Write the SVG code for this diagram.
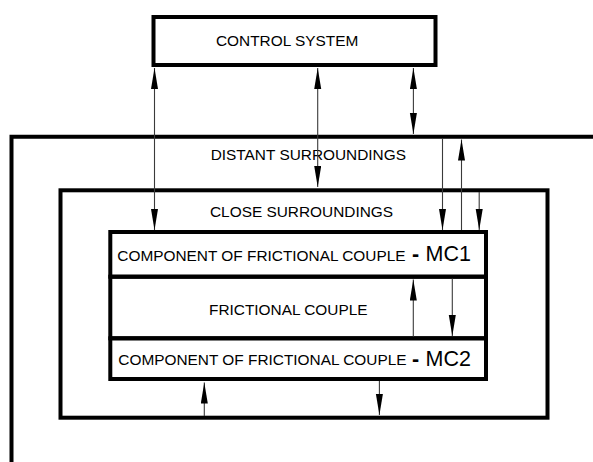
<svg xmlns="http://www.w3.org/2000/svg" width="593" height="462" viewBox="0 0 593 462">
<style>
.box{fill:none;stroke:#000;stroke-width:4}
.t{font-family:"Liberation Sans",Arial,sans-serif;font-size:15.4px;fill:#000}
.big{font-size:21.5px}
.dash{font-size:21.5px;font-weight:bold}
.c{fill:none;stroke:#3a3a3a;stroke-width:1.1}
</style>
<defs>
<marker id="ah" markerUnits="userSpaceOnUse" markerWidth="22" markerHeight="8" refX="21" refY="3.5" orient="auto-start-reverse">
<path d="M0,0 L21,3.5 L0,7 z" fill="#000"/>
</marker>
</defs>
<rect width="593" height="462" fill="#fff"/>
<g id="distant">
<path class="box" d="M11.5,462 V136.7 H595"/>
<text class="t" x="210.7" y="160">DISTANT SURROUNDINGS</text>
</g>
<g id="close">
<rect class="box" x="60.5" y="190.3" width="487" height="227.4"/>
<text class="t" x="210" y="216.7">CLOSE SURROUNDINGS</text>
</g>
<g id="control">
<rect class="box" x="153.5" y="17" width="282" height="48"/>
<text class="t" x="216" y="45.7">CONTROL SYSTEM</text>
</g>
<g id="mc1">
<rect class="box" x="110.3" y="232" width="375.7" height="44.7"/>
<text class="t" x="117.3" y="260.5">COMPONENT OF FRICTIONAL COUPLE <tspan class="dash" x="412" y="260.7">-</tspan><tspan class="big" x="425.5" y="260.7">MC1</tspan></text>
</g>
<g id="frictional">
<rect class="box" x="110.3" y="276.7" width="375.7" height="61.6"/>
<text class="t" x="209" y="315">FRICTIONAL COUPLE</text>
</g>
<g id="mc2">
<rect class="box" x="110.3" y="338.3" width="375.7" height="40.7"/>
<text class="t" x="118.3" y="365">COMPONENT OF FRICTIONAL COUPLE <tspan class="dash" x="412" y="365.7">-</tspan><tspan class="big" x="425.5" y="365.7">MC2</tspan></text>
</g>
<g id="connectors">
<line class="c" x1="154.5" y1="68" x2="154.5" y2="230" marker-start="url(#ah)" marker-end="url(#ah)"/>
<line class="c" x1="317.7" y1="68" x2="317.7" y2="187" marker-start="url(#ah)" marker-end="url(#ah)"/>
<line class="c" x1="413.4" y1="68" x2="413.4" y2="134" marker-start="url(#ah)" marker-end="url(#ah)"/>
<line class="c" x1="442.5" y1="138" x2="442.5" y2="230" marker-end="url(#ah)"/>
<line class="c" x1="461.5" y1="230" x2="461.5" y2="139.5" marker-end="url(#ah)"/>
<line class="c" x1="479.2" y1="192" x2="479.2" y2="230" marker-end="url(#ah)"/>
<line class="c" x1="413.3" y1="336.5" x2="413.3" y2="279.5" marker-end="url(#ah)"/>
<line class="c" x1="452.3" y1="278.5" x2="452.3" y2="336" marker-end="url(#ah)"/>
<line class="c" x1="204.3" y1="416" x2="204.3" y2="382.5" marker-end="url(#ah)"/>
<line class="c" x1="379.4" y1="381" x2="379.4" y2="415" marker-end="url(#ah)"/>
</g>
</svg>
